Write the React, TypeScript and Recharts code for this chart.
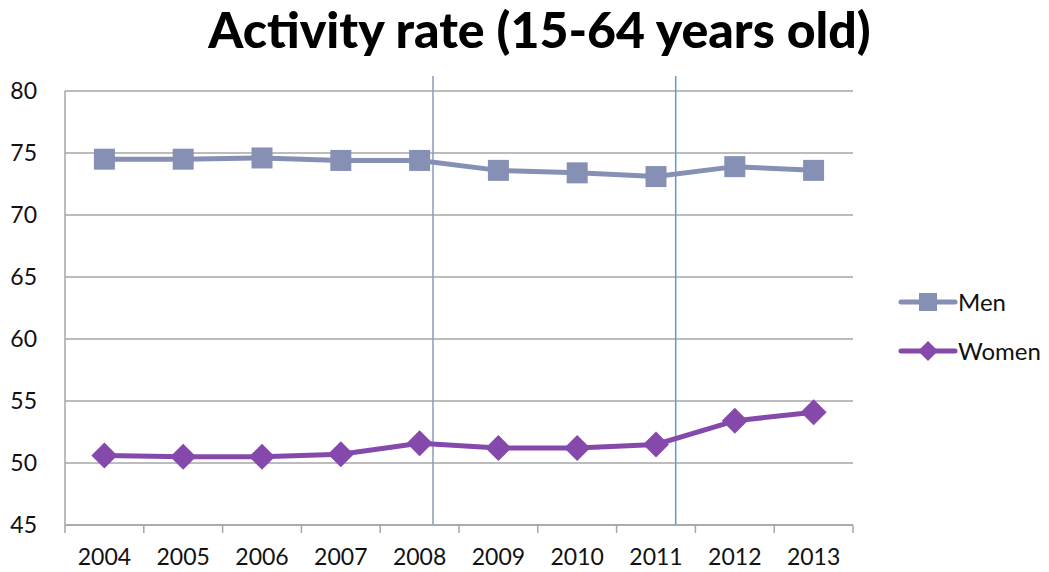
import React from 'react';
import {
  LineChart,
  Line,
  XAxis,
  YAxis,
  CartesianGrid,
  ReferenceLine,
} from 'recharts';

// Activity rate by sex, 15-64 years old (%)
const years = ['2004', '2005', '2006', '2007', '2008', '2009', '2010', '2011', '2012', '2013'];
const men = [74.5, 74.5, 74.6, 74.4, 74.4, 73.6, 73.4, 73.1, 73.9, 73.6];
const women = [50.6, 50.5, 50.5, 50.7, 51.6, 51.2, 51.2, 51.5, 53.4, 54.1];
const yTicks = [45, 50, 55, 60, 65, 70, 75, 80];
// markers for Sep 2008 and Oct 2011, in category units
const events = [
  { x: 4.67, color: '#8b9ac0' },
  { x: 7.75, color: '#5b9bd5' },
];

const MEN_COLOR = '#8690b4';
const WOMEN_COLOR = '#8549ac';
const GRID = '#a6a6a6';
const FONT = 'Lato, "Open Sans", sans-serif';

const data = years.map((year, i) => ({ x: i + 0.5, year, men: men[i], women: women[i] }));
const boundaries = years.map((_, i) => i).concat(years.length);

// boundary tick: the tick mark sits on the boundary, the year label in the middle of its category
function YearTick(props: any) {
  const { x, y, payload, width } = props;
  const idx = payload.value;
  if (idx >= years.length) return null;
  const half = width / years.length / 2;
  return (
    <text x={x + half} y={y + 30} textAnchor="middle" fontSize={23} fontFamily={FONT} fill="#111">
      {years[idx]}
    </text>
  );
}

function SquareDot(props: any) {
  const { cx, cy } = props;
  if (cx == null || cy == null) return null;
  return <rect x={cx - 10.5} y={cy - 10.5} width={21} height={21} fill={MEN_COLOR} />;
}

function DiamondDot(props: any) {
  const { cx, cy } = props;
  if (cx == null || cy == null) return null;
  const r = 13;
  return <path d={`M${cx},${cy - r}L${cx + r},${cy}L${cx},${cy + r}L${cx - r},${cy}Z`} fill={WOMEN_COLOR} />;
}

function ChartLegend() {
  const items = [
    { label: 'Men', color: MEN_COLOR, shape: 'square' },
    { label: 'Women', color: WOMEN_COLOR, shape: 'diamond' },
  ];
  return (
    <div style={{ position: 'absolute', left: 898, top: 277, fontFamily: FONT, fontSize: 24, color: '#111' }}>
      {items.map((it) => (
        <div key={it.label} style={{ display: 'flex', alignItems: 'center', height: 49 }}>
          <svg width={60} height={24}>
            <line x1={3} y1={12} x2={57} y2={12} stroke={it.color} strokeWidth={5} strokeLinecap="round" />
            {it.shape === 'square' ? (
              <rect x={21} y={3} width={18} height={18} fill={it.color} />
            ) : (
              <path d="M30,2L40,12L30,22L20,12Z" fill={it.color} />
            )}
          </svg>
          <span>{it.label}</span>
        </div>
      ))}
    </div>
  );
}

export default function App() {
  return (
    <div style={{ position: 'absolute', left: 0, top: 0, width: 1049, height: 572, background: '#fff' }}>
      <div
        style={{
          position: 'absolute',
          left: 0,
          top: 4,
          width: 1079,
          textAlign: 'center',
          fontFamily: FONT,
          fontWeight: 900,
          fontSize: 50,
          lineHeight: '50px',
          color: '#000',
        }}
      >
        Activity rate (15-64 years old)
      </div>
      <LineChart
        width={1049}
        height={572}
        data={data}
        margin={{ top: 91, right: 196, bottom: 0, left: 0 }}
      >
        <CartesianGrid horizontal vertical={false} stroke={GRID} strokeWidth={1.5} />
        <XAxis
          dataKey="x"
          type="number"
          domain={[0, years.length]}
          ticks={boundaries}
          interval={0}
          height={47}
          axisLine={{ stroke: GRID, strokeWidth: 1.5 }}
          tickLine={{ stroke: GRID, strokeWidth: 1.5 }}
          tickSize={8}
          tick={<YearTick />}
        />
        <YAxis
          type="number"
          domain={[45, 80]}
          ticks={yTicks}
          interval={0}
          width={65}
          axisLine={{ stroke: GRID, strokeWidth: 1.5 }}
          tickLine={false}
          tickMargin={22}
          tick={{ fontSize: 23, fontFamily: FONT, fill: '#111' }}
        />
        {events.map((e) => (
          <ReferenceLine
            key={e.x}
            segment={[{ x: e.x, y: 81.2 }, { x: e.x, y: 45 }]}
            stroke={e.color}
            strokeWidth={1.5}
            ifOverflow="visible"
          />
        ))}
        <Line
          dataKey="men"
          name="Men"
          stroke={MEN_COLOR}
          strokeWidth={5}
          dot={<SquareDot />}
          activeDot={false}
          isAnimationActive={false}
        />
        <Line
          dataKey="women"
          name="Women"
          stroke={WOMEN_COLOR}
          strokeWidth={5}
          dot={<DiamondDot />}
          activeDot={false}
          isAnimationActive={false}
        />
      </LineChart>
      <ChartLegend />
    </div>
  );
}
